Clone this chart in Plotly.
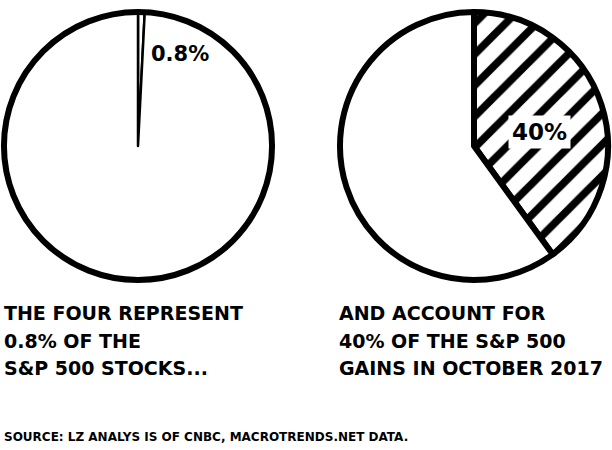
import plotly.graph_objects as go

# ---- data ----
left_labels = ["The four", "Other S&P 500 stocks"]
left_values = [0.8, 99.2]
right_labels = ["The four", "Rest of gains"]
right_values = [40, 60]
left_pct_text = "0.8%"
right_pct_text = "40%"
left_caption = ["THE FOUR REPRESENT", "0.8% OF THE", "S&P 500 STOCKS..."]
right_caption = ["AND ACCOUNT FOR", "40% OF THE S&P 500", "GAINS IN OCTOBER 2017"]
source_text = "SOURCE: LZ ANALYS IS OF CNBC, MACROTRENDS.NET DATA."

W, H = 612, 450
FONT = "DejaVu Sans"

fig = go.Figure()

def dom(cx, cy, r):
    return dict(x=[(cx - r) / W, (cx + r) / W], y=[1 - (cy + r) / H, 1 - (cy - r) / H])

LD = dom(138, 146, 134)
RD = dom(474, 146, 134)

# left pie: thin slice edges
fig.add_trace(go.Pie(
    labels=left_labels, values=left_values, sort=False, direction="clockwise",
    rotation=0, textinfo="none", hoverinfo="label+percent",
    marker=dict(colors=["white", "white"], line=dict(color="black", width=2.5)),
    domain=LD, showlegend=False,
))
# left pie thick outer rim
fig.add_trace(go.Pie(
    labels=["All S&P 500 stocks"], values=[sum(left_values)], sort=False,
    textinfo="none", hoverinfo="skip",
    marker=dict(colors=["rgba(0,0,0,0)"], line=dict(color="black", width=6)),
    domain=LD, showlegend=False,
))
# right pie with hatch
fig.add_trace(go.Pie(
    labels=right_labels, values=right_values, sort=False, direction="clockwise",
    rotation=0, textinfo="none", hoverinfo="label+percent",
    marker=dict(colors=["white", "white"], line=dict(color="black", width=6),
                pattern=dict(shape=["/", ""], fgcolor="black", bgcolor="white",
                             fgopacity=1, size=22, solidity=0.35, fillmode="replace")),
    domain=RD, showlegend=False,
))

ann = []
ann.append(dict(x=180 / W, y=1 - 54 / H, text=left_pct_text, showarrow=False,
                xref="paper", yref="paper", xanchor="center", yanchor="middle",
                font=dict(family=FONT, size=21, color="black", weight="bold")))
ann.append(dict(x=539 / W, y=1 - 132 / H, text=right_pct_text, showarrow=False,
                xref="paper", yref="paper", xanchor="center", yanchor="middle",
                bgcolor="white", borderpad=3,
                font=dict(family=FONT, size=23, color="black", weight="bold")))

line_y = [313, 341, 368]
for txt, yy in zip(left_caption, line_y):
    ann.append(dict(x=2 / W, y=1 - yy / H, text=txt, showarrow=False,
                    xref="paper", yref="paper", xanchor="left", yanchor="middle",
                    font=dict(family=FONT, size=19, color="black", weight="bold")))
for txt, yy in zip(right_caption, line_y):
    ann.append(dict(x=337 / W, y=1 - yy / H, text=txt, showarrow=False,
                    xref="paper", yref="paper", xanchor="left", yanchor="middle",
                    font=dict(family=FONT, size=19, color="black", weight="bold")))
ann.append(dict(x=2 / W, y=1 - 437 / H, text=source_text, showarrow=False,
                xref="paper", yref="paper", xanchor="left", yanchor="middle",
                font=dict(family=FONT, size=12, color="black", weight="bold")))

fig.update_layout(
    width=W, height=H, margin=dict(l=0, r=0, t=0, b=0),
    paper_bgcolor="white", plot_bgcolor="white",
    annotations=ann, showlegend=False,
)

fig.write_html("out.html", config={"displayModeBar": False},
               post_script="document.body.style.margin='0px';")
